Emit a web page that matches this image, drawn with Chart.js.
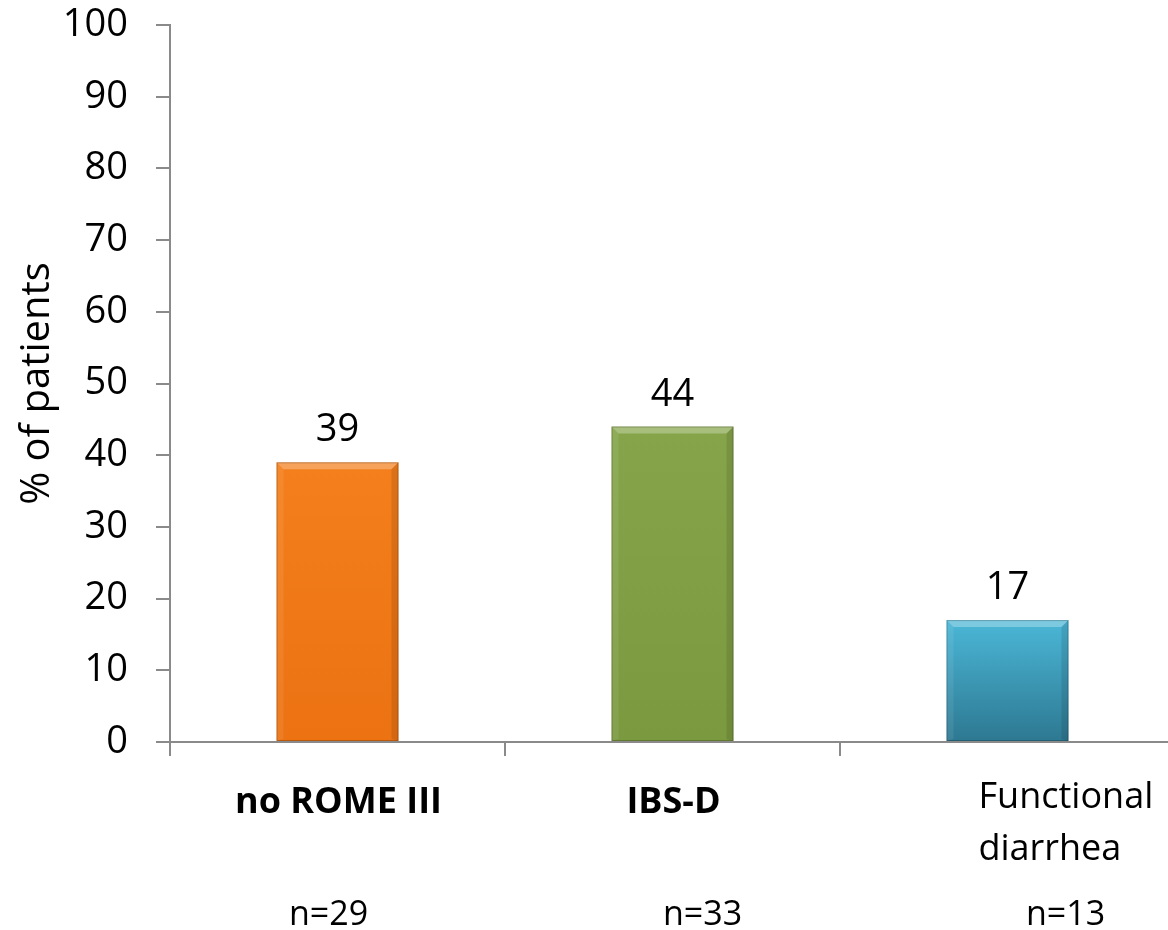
<!DOCTYPE html>
<html>
<head>
<meta charset="utf-8">
<title>% of patients by group</title>
<script src="https://cdn.jsdelivr.net/npm/chart.js@4.4.1/dist/chart.umd.min.js"></script>
<style>
  html, body { margin: 0; padding: 0; background: #fff; overflow: hidden; }
  #wrap { width: 1176px; height: 930px; }
</style>
</head>
<body>
<div id="wrap"><canvas id="chart" width="1176" height="930"></canvas></div>
<script>
// ---------- Data ----------
const categories = ['no ROME III', 'IBS-D', 'Functional diarrhea'];
const labelLines = [['no ROME III'], ['IBS-D'], ['Functional', 'diarrhea']];
const percentPatients = [39, 44, 17];
const groupSizes = ['n=29', 'n=33', 'n=13'];
const yMin = 0, yMax = 100, yStep = 10;

// ---------- Styles ----------
const FONT = '"Open Sans", "DejaVu Sans", sans-serif';
const AXIS_GRAY = '#8a8a8a';
const barTop    = ['#f47f1c', '#86a54a', '#4bb7d7'];
const barBottom = ['#ec7212', '#7b9a40', '#2d7891'];

// where each category's text sits, relative to its tick / the axis line
const labelStyle = [
  { bold: true,  align: 'center', dx: 1,   nDx: -9 },
  { bold: true,  align: 'center', dx: 1,   nDx: 30 },
  { bold: false, align: 'left',   dx: -29, nDx: 58 }
];

function barGradient(ctx){
  const chart = ctx.chart;
  const area = chart.chartArea;
  const i = ctx.dataIndex;
  if(!area || ctx.raw == null) return barTop[i];
  const yTop = chart.scales.y.getPixelForValue(ctx.raw);
  const g = chart.ctx.createLinearGradient(0, yTop, 0, area.bottom);
  g.addColorStop(0, barTop[i]);
  g.addColorStop(1, barBottom[i]);
  return g;
}

// soft bevel on each bar, drawn over the library's bar rectangles
const bevelPlugin = {
  id: 'bevel',
  afterDatasetsDraw(chart){
    const c = chart.ctx;
    const meta = chart.getDatasetMeta(0);
    const b = 7;
    c.save();
    meta.data.forEach(el => {
      const l = el.x - el.width / 2, r = el.x + el.width / 2;
      const t = el.y, btm = el.base;
      // top
      c.fillStyle = 'rgba(255,255,255,0.28)';
      c.beginPath(); c.moveTo(l, t); c.lineTo(r, t); c.lineTo(r - b, t + b); c.lineTo(l + b, t + b); c.closePath(); c.fill();
      // left
      c.fillStyle = 'rgba(255,255,255,0.08)';
      c.beginPath(); c.moveTo(l, t); c.lineTo(l + b, t + b); c.lineTo(l + b, btm - 2); c.lineTo(l, btm); c.closePath(); c.fill();
      // right
      c.fillStyle = 'rgba(0,0,0,0.10)';
      c.beginPath(); c.moveTo(r, t); c.lineTo(r - b, t + b); c.lineTo(r - b, btm - 2); c.lineTo(r, btm); c.closePath(); c.fill();
      // outline shadow
      c.strokeStyle = 'rgba(0,0,0,0.22)';
      c.lineWidth = 1;
      c.strokeRect(l + 0.5, t + 0.5, r - l - 1, btm - t - 1);
    });
    c.restore();
  }
};

// value above each bar
const valueLabels = {
  id: 'valueLabels',
  afterDatasetsDraw(chart){
    const c = chart.ctx;
    const meta = chart.getDatasetMeta(0);
    c.save();
    c.font = '38px ' + FONT;
    c.fillStyle = '#000';
    c.textAlign = 'center';
    c.textBaseline = 'alphabetic';
    meta.data.forEach((el, i) => {
      c.fillText(String(percentPatients[i]), el.x, el.y - 21);
    });
    c.restore();
  }
};

// category names and group sizes under the axis
const categoryLabels = {
  id: 'categoryLabels',
  afterDraw(chart){
    const c = chart.ctx;
    const x = chart.scales.x;
    const base = chart.chartArea.bottom;
    c.save();
    c.fillStyle = '#000';
    c.textBaseline = 'alphabetic';
    labelLines.forEach((lines, i) => {
      const st = labelStyle[i];
      const px = x.getPixelForValue(i);
      c.font = (st.bold ? 'bold ' : '') + '36px ' + FONT;
      c.textAlign = st.align;
      const firstBase = lines.length > 1 ? 66 : 71;
      lines.forEach((ln, k) => c.fillText(ln, px + st.dx, base + firstBase + k * 52));
      c.font = '34px ' + FONT;
      c.textAlign = 'center';
      c.fillText(groupSizes[i], px + st.nDx, base + 183);
    });
    c.restore();
  }
};

// ---------- Chart ----------
const ctx = document.getElementById('chart').getContext('2d');
const chart = new Chart(ctx, {
  type: 'bar',
  data: {
    labels: categories,
    datasets: [{
      data: percentPatients,
      backgroundColor: barGradient,
      borderWidth: 0,
      categoryPercentage: 1,
      barPercentage: 0.364
    }]
  },
  options: {
    responsive: false,
    animation: false,
    layout: { padding: { top: 25, right: 1, left: 0, bottom: 0 } },
    plugins: {
      legend: { display: false },
      tooltip: { enabled: false }
    },
    scales: {
      x: {
        grid: {
          display: true,
          drawOnChartArea: false,
          drawTicks: true,
          tickLength: 14,
          color: AXIS_GRAY,
          lineWidth: 2,
          offset: true
        },
        border: { color: AXIS_GRAY, width: 2 },
        ticks: { display: false },
        afterFit(scale){ scale.height = 188; }
      },
      y: {
        min: yMin,
        max: yMax,
        ticks: {
          stepSize: yStep,
          color: '#000',
          padding: 28,
          font: { family: FONT, size: 38 }
        },
        grid: {
          drawOnChartArea: false,
          drawTicks: true,
          tickLength: 14,
          color: AXIS_GRAY,
          lineWidth: 2
        },
        border: { color: AXIS_GRAY, width: 2 },
        title: {
          display: true,
          text: '% of patients',
          color: '#000',
          font: { family: FONT, size: 40 },
          padding: { top: 14, bottom: 0 }
        },
        afterFit(scale){
          scale.width = 170;
          // the top label may hang above the plot; the page padding covers it
          scale.paddingTop = 0;
          scale.paddingBottom = 0;
        }
      }
    }
  },
  plugins: [bevelPlugin, valueLabels, categoryLabels]
});
</script>
</body>
</html>
